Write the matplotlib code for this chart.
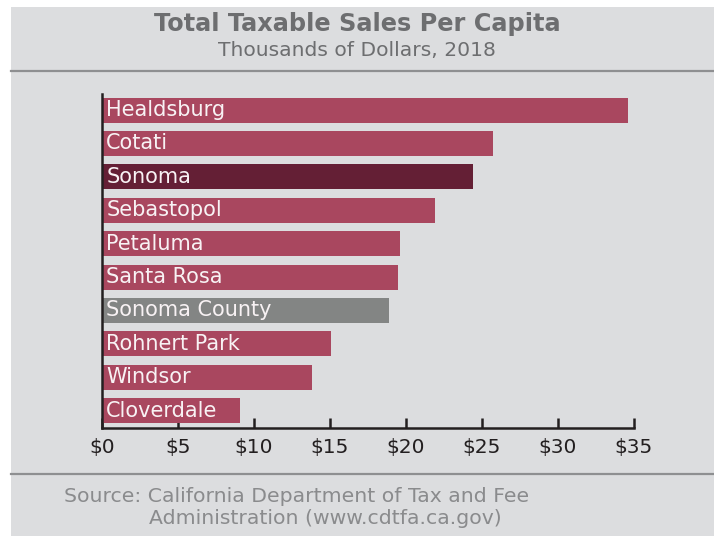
import matplotlib.pyplot as plt
from matplotlib.patches import Rectangle
from matplotlib.lines import Line2D

plt.rcParams['font.family'] = ['DejaVu Sans']

cidades = ['Healdsburg', 'Cotati', 'Sonoma', 'Sebastopol', 'Petaluma',
           'Santa Rosa', 'Sonoma County', 'Rohnert Park', 'Windsor', 'Cloverdale']
vendas = [34.6, 25.7, 24.4, 21.9, 19.6, 19.5, 18.9, 15.1, 13.8, 9.1]
ticks = [0, 5, 10, 15, 20, 25, 30, 35]
tick_labels = ['$0', '$5', '$10', '$15', '$20', '$25', '$30', '$35']

COR_BARRA = '#A9475F'
COR_DESTAQUE = '#641F35'
COR_CONDADO = '#838584'
FUNDO = '#DCDDDF'
CINZA_TEXTO = '#6D6E70'

cores = []
for c in cidades:
    if c == 'Sonoma':
        cores.append(COR_DESTAQUE)
    elif c == 'Sonoma County':
        cores.append(COR_CONDADO)
    else:
        cores.append(COR_BARRA)

fig = plt.figure(figsize=(7.14, 5.36), dpi=100)
fig.patch.set_facecolor('white')

# painel cinza de fundo com as linhas divisórias
W, H = 714, 536
fig.patches.append(Rectangle((11 / W, 0), 1 - 11 / W, 1 - 7 / H,
                             transform=fig.transFigure, facecolor=FUNDO,
                             edgecolor='none', zorder=-5))
for y in (71, 474):
    fig.lines.append(Line2D([11 / W, 1], [1 - y / H, 1 - y / H],
                            transform=fig.transFigure, color='#8E8F91', lw=1.6,
                            zorder=-4))

fig.text(0.5, 1 - 24 / H, 'Total Taxable Sales Per Capita', ha='center', va='center',
         fontsize=17.3, fontweight='bold', color=CINZA_TEXTO)
fig.text(0.5, 1 - 50 / H, 'Thousands of Dollars, 2018', ha='center', va='center',
         fontsize=14.6, color=CINZA_TEXTO)

ax = fig.add_axes([101.7 / W, 1 - 428 / H, (634 - 101.7) / W, (428 - 94) / H])
ax.set_facecolor('none')
pos = list(range(len(cidades)))
ax.barh(pos, vendas, height=0.75, color=cores, zorder=2)
for i, nome in enumerate(cidades):
    ax.text(0.3, i, nome, ha='left', va='center', color='#F8F2F4', fontsize=15, zorder=3)

ax.set_xlim(0, 35)
ax.set_ylim(9.52, -0.48)
ax.set_xticks(ticks)
ax.set_xticklabels(tick_labels, fontsize=14.5, color='#231F20')
ax.set_yticks([])
ax.tick_params(axis='x', direction='in', length=7, width=1.8, color='#231F20', pad=7)
for lado in ('top', 'right'):
    ax.spines[lado].set_visible(False)
for lado in ('left', 'bottom'):
    ax.spines[lado].set_color('#231F20')
    ax.spines[lado].set_linewidth(1.8)

fig.text(64 / W, 1 - 497 / H, 'Source: California Department of Tax and Fee',
         ha='left', va='center', fontsize=14.7, color='#8A8B8D')
fig.text(149 / W, 1 - 519 / H, 'Administration (www.cdtfa.ca.gov)',
         ha='left', va='center', fontsize=14.7, color='#8A8B8D')

fig.savefig('out.png', dpi=100, facecolor=fig.get_facecolor())
